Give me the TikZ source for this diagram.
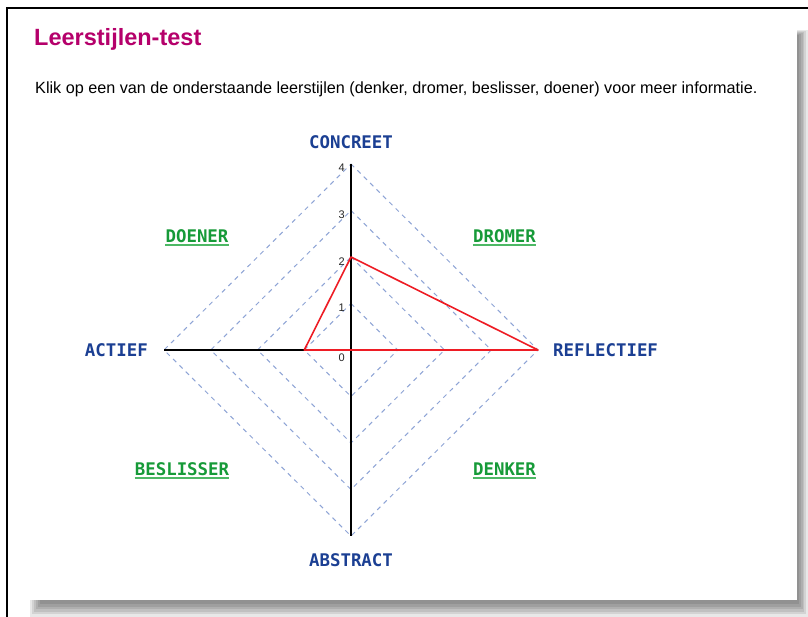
\documentclass[tikz,border=0pt]{standalone}
\usepackage{fontspec}
\setmainfont{Liberation Sans}
\newfontfamily\pixfont{DejaVu Sans Mono}
\usetikzlibrary{calc}
\definecolor{titlecol}{HTML}{B5006B}
\definecolor{axlab}{HTML}{1B3F93}
\definecolor{stylelab}{HTML}{169A38}
\definecolor{stylelin}{HTML}{4DB865}
\definecolor{gridcol}{HTML}{8EA4D6}
\definecolor{polycol}{HTML}{EE1C24}
\tikzset{
  axislabel/.style={font=\pixfont\bfseries\fontsize{17.4}{19}\selectfont, text=axlab, inner sep=0pt},
  stylelabel/.style={font=\pixfont\bfseries\fontsize{17.4}{19}\selectfont, text=stylelab, inner sep=0pt},
  numlabel/.style={font=\fontsize{11}{12}\selectfont, text=black!85, inner sep=0pt, anchor=east},
  gridline/.style={gridcol, dash pattern=on 4.5pt off 4.5pt, line width=1pt},
  axisline/.style={black, line width=1.4pt},
  polyline/.style={polycol, line width=1.6pt, line join=round},
  underl/.style={stylelin, line width=1.8pt}
}
\begin{document}
\begin{tikzpicture}[x=1pt,y=-1pt]
\useasboundingbox (0,0) rectangle (808,617);
% shadow
\foreach \i in {0,1,2,3,4,5}{
  \fill[black, opacity=0.09] (30+\i*2,30+\i) rectangle (808-\i*1.8,617-\i*2.6);
}
\fill[white] (7,8) rectangle (797,600);
\draw[black, line width=2pt] (7,617) -- (7,8) -- (808,8);
% texts
\node[anchor=base west, font=\bfseries\fontsize{23.5}{27}\selectfont, text=titlecol, inner sep=0pt] (title) at (34,46) {Leerstijlen-test};
\node[anchor=base west, font=\fontsize{16.2}{18}\selectfont, inner sep=0pt] (intro) at (35,94) {Klik op een van de onderstaande leerstijlen (denker, dromer, beslisser, doener) voor meer informatie.};
% coordinates
\coordinate (O) at (351,350);
\foreach \k in {1,2,3,4}{
  \coordinate (N\k) at (351,350-46.5*\k);
  \coordinate (S\k) at (351,350+46.5*\k);
  \coordinate (E\k) at (351+46.75*\k,350);
  \coordinate (W\k) at (351-46.75*\k,350);
}
% grid diamonds
\foreach \k in {1,2,3,4}{
  \draw[gridline] (N\k) -- (E\k) -- (S\k) -- (W\k) -- cycle;
}
% axes
\draw[axisline] (N4) -- (S4);
\draw[axisline] (W4) -- (E4);
% polygon: concreet 2, reflectief 4, abstract 0, actief 1
\draw[polyline] (W1) -- (N2) -- (E4) -- (O) -- cycle;
% numbers
\node[numlabel] (n4) at (345,168) {4};
\node[numlabel] (n3) at (345,215) {3};
\node[numlabel] (n2) at (345,262) {2};
\node[numlabel] (n1) at (345,308) {1};
\node[numlabel] (n0) at (345,358) {0};
% axis labels
\node[axislabel] (concreet) at (351,142) {CONCREET};
\node[axislabel] (abstract) at (351,560) {ABSTRACT};
\node[axislabel, anchor=east] (actief) at (148,350) {ACTIEF};
\node[axislabel, anchor=west] (reflectief) at (553,350) {REFLECTIEF};
% style labels
\node[stylelabel] (doener) at (197,236) {DOENER};
\node[stylelabel] (dromer) at (504.5,236) {DROMER};
\node[stylelabel] (beslisser) at (182,469) {BESLISSER};
\node[stylelabel] (denker) at (504.5,469) {DENKER};
\foreach \n in {doener,dromer,beslisser,denker}{
  \draw[underl] ($(\n.south west)+(0,2.5)$) -- ($(\n.south east)+(0,2.5)$);
}
\end{tikzpicture}
\end{document}
